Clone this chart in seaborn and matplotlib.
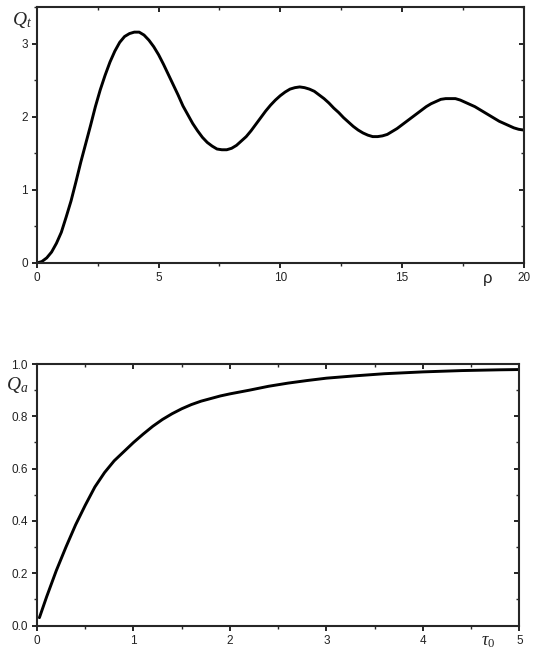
import matplotlib
matplotlib.use("Agg")
import matplotlib.pyplot as plt
import matplotlib.lines as mlines
import seaborn as sns
import pandas as pd
from matplotlib.ticker import MultipleLocator

# Top panel: Q_t vs rho
rho = [0.0, 0.2, 0.4, 0.6, 0.8, 1.0, 1.2, 1.4, 1.6, 1.8, 2.0, 2.2, 2.4, 2.6, 2.8,
       3.0, 3.2, 3.4, 3.6, 3.8, 4.0, 4.2, 4.4, 4.6, 4.8, 5.0, 5.2, 5.4, 5.6, 5.8,
       6.0, 6.2, 6.4, 6.6, 6.8, 7.0, 7.2, 7.4, 7.6, 7.8, 8.0, 8.2, 8.4, 8.6, 8.8,
       9.0, 9.2, 9.4, 9.6, 9.8, 10.0, 10.2, 10.4, 10.6, 10.8, 11.0, 11.2, 11.4,
       11.6, 11.8, 12.0, 12.2, 12.4, 12.6, 12.8, 13.0, 13.2, 13.4, 13.6, 13.8,
       14.0, 14.2, 14.4, 14.6, 14.8, 15.0, 15.2, 15.4, 15.6, 15.8, 16.0, 16.2,
       16.4, 16.6, 16.8, 17.0, 17.2, 17.4, 17.6, 17.8, 18.0, 18.2, 18.4, 18.6,
       18.8, 19.0, 19.2, 19.4, 19.6, 19.8, 20.0]
q_t = [0.0, 0.02, 0.07, 0.15, 0.27, 0.42, 0.63, 0.85, 1.11, 1.38, 1.63, 1.88, 2.14,
       2.37, 2.57, 2.75, 2.90, 3.02, 3.10, 3.14, 3.16, 3.16, 3.12, 3.05, 2.96,
       2.85, 2.72, 2.58, 2.44, 2.30, 2.15, 2.03, 1.91, 1.81, 1.72, 1.65, 1.60,
       1.56, 1.55, 1.55, 1.57, 1.61, 1.67, 1.73, 1.81, 1.90, 1.99, 2.08, 2.16,
       2.23, 2.29, 2.34, 2.38, 2.40, 2.41, 2.40, 2.38, 2.35, 2.30, 2.25, 2.19,
       2.12, 2.06, 1.99, 1.93, 1.87, 1.82, 1.78, 1.75, 1.73, 1.73, 1.74, 1.76,
       1.80, 1.84, 1.89, 1.94, 1.99, 2.04, 2.09, 2.14, 2.18, 2.21, 2.24, 2.25,
       2.25, 2.25, 2.23, 2.20, 2.17, 2.14, 2.10, 2.06, 2.02, 1.98, 1.94, 1.91,
       1.88, 1.85, 1.83, 1.82]

# Bottom panel: Q_a vs tau_0
tau0 = [0.025, 0.1, 0.2, 0.3, 0.4, 0.5, 0.6, 0.7, 0.8, 0.9, 1.0, 1.1, 1.2, 1.3,
        1.4, 1.5, 1.6, 1.7, 1.8, 1.9, 2.0, 2.2, 2.4, 2.6, 2.8, 3.0, 3.3, 3.6,
        4.0, 4.4, 4.8, 5.0]
q_a = [0.03, 0.11, 0.21, 0.30, 0.385, 0.46, 0.53, 0.585, 0.63, 0.665, 0.70, 0.732,
       0.762, 0.788, 0.81, 0.829, 0.845, 0.858, 0.868, 0.878, 0.886, 0.90, 0.915,
       0.927, 0.937, 0.946, 0.955, 0.963, 0.970, 0.975, 0.978, 0.979]

top_xticks = [0, 5, 10, 15, 20]
top_yticks = [0, 1, 2, 3]
bot_xticks = [0, 1, 2, 3, 4, 5]
bot_yticks = [0.0, 0.2, 0.4, 0.6, 0.8, 1.0]

sns.set_theme(style="ticks")
plt.rcParams['font.family'] = ['Liberation Sans', 'DejaVu Sans']
plt.rcParams['mathtext.fontset'] = 'custom'
plt.rcParams['mathtext.it'] = 'Liberation Serif:italic'
plt.rcParams['mathtext.rm'] = 'Liberation Serif'

fig = plt.figure(figsize=(5.4, 6.57), dpi=100)
ax1 = fig.add_axes([0.0685, 0.5997, 0.901, 0.3892])
ax2 = fig.add_axes([0.0685, 0.0479, 0.8935, 0.398])

df1 = pd.DataFrame({"rho": rho, "Qt": q_t})
df2 = pd.DataFrame({"tau0": tau0, "Qa": q_a})
sns.lineplot(data=df1, x="rho", y="Qt", ax=ax1, color="black", lw=2.1)
sns.lineplot(data=df2, x="tau0", y="Qa", ax=ax2, color="black", lw=2.1)


def style(ax, xl, yl, xt, yt, xminor, yminor, fmt):
    ax.set_xlim(*xl)
    ax.set_ylim(*yl)
    ax.set_xticks(xt)
    ax.set_yticks(yt)
    ax.set_yticklabels([fmt.format(v) for v in yt])
    ax.xaxis.set_minor_locator(MultipleLocator(xminor))
    ax.yaxis.set_minor_locator(MultipleLocator(yminor))
    ax.set_xlabel("")
    ax.set_ylabel("")
    for s in ax.spines.values():
        s.set_linewidth(1.5)
        s.set_visible(True)
    ax.tick_params(which="major", direction="out", length=3.5, width=1.2,
                   labelsize=8.5, labelcolor="#222222", color="black", pad=3)
    ax.tick_params(which="minor", direction="out", length=2, width=1.0)
    ax.tick_params(which="both", top=True, right=True, labeltop=False, labelright=False)
    for t in ax.xaxis.get_major_ticks() + ax.xaxis.get_minor_ticks():
        t.tick2line.set_marker(mlines.TICKDOWN)
    for t in ax.yaxis.get_major_ticks() + ax.yaxis.get_minor_ticks():
        t.tick2line.set_marker(mlines.TICKLEFT)


style(ax1, (0, 20), (0, 3.5), top_xticks, top_yticks, 2.5, 0.5, "{:g}")
style(ax2, (0, 5), (0, 1.0), bot_xticks, bot_yticks, 0.5, 0.1, "{:.1f}")

ax1.text(-0.031, 0.95, r"$Q_t$", transform=ax1.transAxes, fontsize=14,
         ha="center", va="center")
ax1.text(0.927, -0.062, "ρ", transform=ax1.transAxes, fontsize=12,
         ha="center", va="center", color="#222222")
ax2.text(-0.041, 0.92, r"$Q_a$", transform=ax2.transAxes, fontsize=14,
         ha="center", va="center")
ax2.text(0.935, -0.06, r"$\tau_0$", transform=ax2.transAxes, fontsize=13,
         ha="center", va="center", color="#222222")

fig.savefig("out.png", dpi=100)
